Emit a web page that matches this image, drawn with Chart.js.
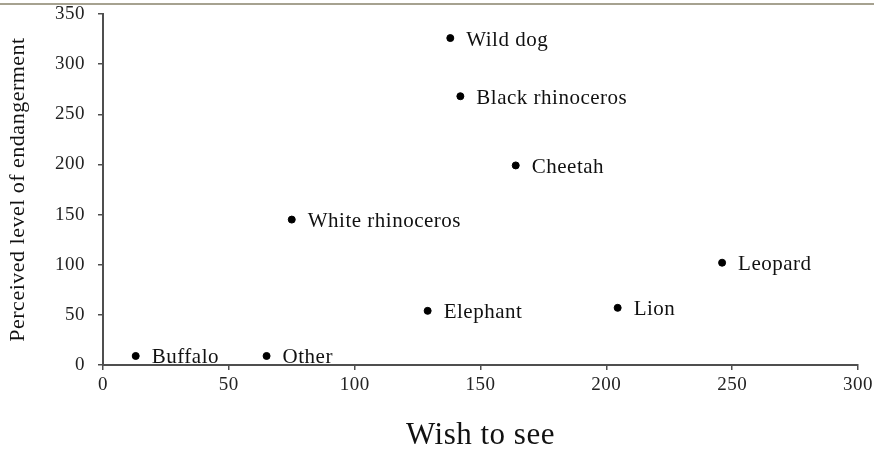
<!DOCTYPE html>
<html>
<head>
<meta charset="utf-8">
<script src="https://cdn.jsdelivr.net/npm/chart.js@4.4.1/dist/chart.umd.min.js"></script>
<style>
html,body{margin:0;padding:0;background:#fff;}
#wrap{width:874px;height:451px;position:relative;}
</style>
</head>
<body>
<div id="wrap"><canvas id="c" width="874" height="451"></canvas></div>
<script>
const categories = ['Wild dog','Black rhinoceros','Cheetah','White rhinoceros','Leopard','Lion','Elephant','Buffalo','Other'];
const wishToSee = [138, 142, 164, 75, 246, 204.5, 129, 13, 65];
const endangerment = [326, 268, 199, 145, 102, 57, 54, 9, 9];
const xTicks = [0, 50, 100, 150, 200, 250, 300];
const yTicks = [0, 50, 100, 150, 200, 250, 300, 350];
const xTitle = 'Wish to see';
const yTitle = 'Perceived level of endangerment';

const serif = '"Liberation Serif", "Times New Roman", serif';
const axisColor = '#4f4f4f';

const points = wishToSee.map((x, i) => ({x: x, y: endangerment[i]}));

const labelPlugin = {
  id: 'pointLabels',
  beforeDraw(chart) {
    const ctx = chart.ctx;
    ctx.letterSpacing = '0.5px';
    ctx.save();
    ctx.fillStyle = '#a6a290';
    ctx.fillRect(0, 3, chart.width, 2);
    ctx.restore();
  },
  afterDatasetsDraw(chart) {
    const ctx = chart.ctx;
    const xs = chart.scales.x, ys = chart.scales.y;
    ctx.save();
    ctx.font = '21px ' + serif;
    ctx.fillStyle = '#111';
    ctx.textBaseline = 'middle';
    ctx.textAlign = 'left';
    categories.forEach((name, i) => {
      const px = xs.getPixelForValue(wishToSee[i]);
      const py = ys.getPixelForValue(endangerment[i]);
      ctx.fillText(name, px + 16, py + 2);
    });
    ctx.restore();
  }
};

new Chart(document.getElementById('c'), {
  type: 'scatter',
  data: {
    datasets: [{
      data: points,
      backgroundColor: '#000',
      borderColor: '#000',
      pointRadius: 3.5,
      pointHoverRadius: 3.5
    }]
  },
  options: {
    responsive: false,
    animation: false,
    devicePixelRatio: 1,
    layout: {padding: {top: 14, right: 16, bottom: 0, left: 0}},
    plugins: {legend: {display: false}, tooltip: {enabled: false}},
    scales: {
      x: {
        type: 'linear',
        min: 0, max: 300,
        afterBuildTicks(s) { s.ticks = xTicks.map(v => ({value: v})); },
        afterFit(s) { s.height = 86; s.paddingLeft = 0; s.paddingRight = 0; },
        border: {display: true, color: axisColor, width: 2},
        grid: {drawOnChartArea: false, drawTicks: true, tickLength: 5, color: axisColor, lineWidth: 1.5},
        ticks: {font: {family: serif, size: 19}, color: '#222', padding: 4, maxRotation: 0},
        title: {display: true, text: xTitle, font: {family: serif, size: 31, lineHeight: 1.0}, color: '#111', padding: {top: 0, bottom: 0}}
      },
      y: {
        type: 'linear',
        min: 0, max: 350,
        afterBuildTicks(s) { s.ticks = yTicks.map(v => ({value: v})); },
        afterFit(s) { s.width = 103; s.paddingTop = 0; s.paddingBottom = 0; },
        border: {display: true, color: axisColor, width: 2},
        grid: {drawOnChartArea: false, drawTicks: true, tickLength: 5, color: axisColor, lineWidth: 1.5},
        ticks: {font: {family: serif, size: 19}, color: '#222', padding: 13},
        title: {display: true, text: yTitle, font: {family: serif, size: 22, lineHeight: 1.2}, color: '#111', padding: {top: 5, bottom: 0}}
      }
    }
  },
  plugins: [labelPlugin]
});
</script>
</body>
</html>
